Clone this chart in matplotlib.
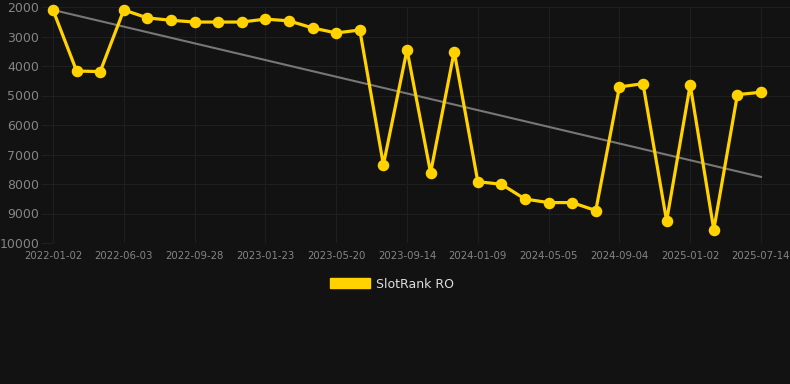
import numpy as np
import matplotlib as mpl
mpl.use('Agg')
import matplotlib.pyplot as plt
from matplotlib.patches import Patch

tick_labels = ['2022-01-02', '2022-06-03', '2022-09-28', '2023-01-23', '2023-05-20',
               '2023-09-14', '2024-01-09', '2024-05-05', '2024-09-04', '2025-01-02',
               '2025-07-14']
rank = [2100, 4170, 4190, 2100, 2370, 2450, 2510, 2510, 2510, 2410,
        2470, 2710, 2880, 2780, 7350, 3450, 7620, 3510, 7920, 8010,
        8510, 8630, 8630, 8900, 4710, 4600, 9250, 4640, 9550, 4970,
        4890]
trend_ends = [2100, 7760]

BG = '#121212'
GOLD = '#FFD200'
GRID = '#1f1f1f'

W, H = 790, 384
fig = plt.figure(figsize=(W / 100, H / 100), dpi=100, facecolor=BG)
ax = fig.add_axes([53 / W, 1 - 243 / H, (790 - 53) / W, (243 - 7) / H], facecolor=BG)

x = np.arange(len(rank))
ax.plot([x[0], x[-1]], trend_ends, color='#777777', lw=1.5, zorder=2)
ax.plot(x, rank, color=GOLD, lw=2.3, marker='o', ms=7.3, zorder=3, clip_on=False)

ax.set_xlim(0, 30 * 737 / 708)
ax.set_ylim(10000, 2000)
ax.set_yticks(range(2000, 10001, 1000))
ax.set_xticks(x[::3])
ax.set_xticklabels(tick_labels)

ax.grid(True, color=GRID, lw=0.8)
ax.set_axisbelow(True)
for s in ax.spines.values():
    s.set_visible(False)
ax.tick_params(axis='y', colors=GRID, length=9, width=0.8, pad=1,
               labelcolor='#858585', labelsize=9)
ax.tick_params(axis='x', colors=GRID, length=0, pad=6,
               labelcolor='#858585', labelsize=7.3)

fig.legend(handles=[Patch(facecolor=GOLD, edgecolor=GOLD, label='SlotRank RO')],
           loc='center', bbox_to_anchor=(0.496, 1 - 284 / H), frameon=False,
           labelcolor='#dddddd', fontsize=9, handlelength=3.2, handleheight=0.8,
           handletextpad=0.5)

fig.savefig('out.png', dpi=100, facecolor=BG)
